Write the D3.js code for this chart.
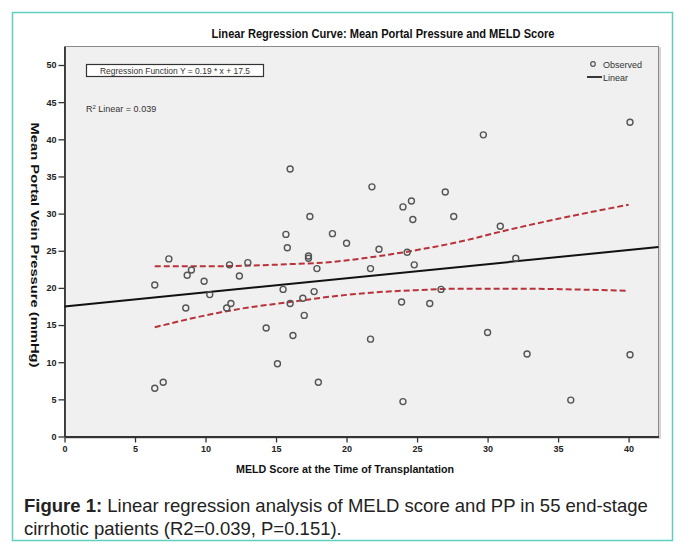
<!DOCTYPE html>
<html>
<head>
<meta charset="utf-8">
<script src="https://cdn.jsdelivr.net/npm/d3@7"></script>
<style>
  html, body { margin: 0; padding: 0; background: #fff; }
  svg { display: block; }
  .narrow { font-family: 'Liberation Sans Narrow', 'Arial Narrow', 'Liberation Sans', Arial, sans-serif; }
  .cap { font-family: 'Liberation Sans', Arial, sans-serif; }
</style>
</head>
<body>
<svg id="chart" width="677" height="544"></svg>
<script>
// ---- data ----
const meld = [6.4, 7.4, 8.7, 9.0, 8.6, 9.9, 10.3, 11.7, 11.8, 11.5, 12.4, 13.0, 6.4, 7.0,
  14.3, 15.1, 15.5, 15.8, 16.0, 16.2, 17.0, 16.9, 17.3, 17.3, 17.9, 17.7, 18.0, 16.0,
  17.4, 15.7, 19.0, 21.8, 24.0, 24.6, 24.7, 27.0, 27.6, 29.7, 30.9, 40.1, 20.0, 22.3,
  24.3, 21.7, 24.8, 32.0, 26.7, 23.9, 25.9, 21.7, 30.0, 32.8, 40.1, 24.0, 35.9];
const pressure = [20.4, 23.9, 21.7, 22.4, 17.3, 20.9, 19.1, 23.1, 17.9, 17.3, 21.6, 23.4, 6.5, 7.3,
  14.6, 9.8, 19.8, 25.4, 17.9, 13.6, 16.3, 18.6, 24.3, 24.0, 22.6, 19.5, 7.3, 36.0,
  29.6, 27.2, 27.3, 33.6, 30.9, 31.7, 29.2, 32.9, 29.6, 40.6, 28.3, 42.3, 26.0, 25.2,
  24.8, 22.6, 23.1, 24.0, 19.8, 18.1, 17.9, 13.1, 14.0, 11.1, 11.0, 4.7, 4.9];

const upperX = [6.4, 10, 13, 16, 19, 22, 25, 28, 31, 35, 40];
const upperY = [22.9, 22.9, 23.0, 23.2, 23.5, 24.2, 25.1, 26.2, 27.6, 29.3, 31.2];
const lowerX = [6.4, 10, 12.5, 16, 19, 22, 25, 28, 32, 36, 40];
const lowerY = [14.7, 16.3, 17.2, 18.1, 18.85, 19.4, 19.7, 19.9, 19.9, 19.8, 19.6];

const regSlope = 0.19, regIntercept = 17.5;
const xTicks = [0, 5, 10, 15, 20, 25, 30, 35, 40];
const yTicks = [0, 5, 10, 15, 20, 25, 30, 35, 40, 45, 50];

const titleText = "Linear Regression Curve: Mean Portal Pressure and MELD Score";
const xLabel = "MELD Score at the Time of Transplantation";
const yLabel = "Mean Portal Vein Pressure (mmHg)";
const regText = "Regression Function Y = 0.19 * x + 17.5";
const captionBold = "Figure 1:";
const caption1 = " Linear regression analysis of MELD score and PP in 55 end-stage";
const caption2 = "cirrhotic patients (R2=0.039, P=0.151).";

// ---- layout ----
(function () {
const svg = d3.select("#chart");
const pLeft = 64.5, pRight = 658.5, pTop = 46.5, pBottom = 436.5;

const x = d3.scaleLinear().domain([0, 42.12]).range([pLeft, pRight]);
const y = d3.scaleLinear().domain([0, 52.49]).range([pBottom, pTop]);

// outer teal frame
svg.append("rect").attr("x", 12.5).attr("y", 12.5).attr("width", 660).attr("height", 528)
  .attr("fill", "#fff").attr("stroke", "#5fcfc0").attr("stroke-width", 1.5);

// title
svg.append("text").attr("class", "narrow")
  .attr("x", 383).attr("y", 37.5).attr("text-anchor", "middle")
  .attr("font-size", 12).attr("font-weight", "bold").attr("fill", "#111")
  .attr("textLength", 343).attr("lengthAdjust", "spacingAndGlyphs")
  .text(titleText);

// plot background / frame
svg.append("rect").attr("x", pLeft + 1.5).attr("y", pTop + 1.5)
  .attr("width", pRight - pLeft).attr("height", pBottom - pTop)
  .attr("fill", "none").attr("stroke", "#c8c8c8").attr("stroke-width", 1.5);
svg.append("rect").attr("x", pLeft).attr("y", pTop)
  .attr("width", pRight - pLeft).attr("height", pBottom - pTop)
  .attr("fill", "#f0f0f0").attr("stroke", "#8a8a8a").attr("stroke-width", 1);

// axes
const gx = svg.append("g").attr("transform", `translate(0,${pBottom})`)
  .call(d3.axisBottom(x).tickValues(xTicks).tickSize(6).tickSizeOuter(0).tickPadding(3).tickFormat(d3.format("d")));
const gy = svg.append("g").attr("transform", `translate(${pLeft},0)`)
  .call(d3.axisLeft(y).tickValues(yTicks).tickSize(6).tickSizeOuter(0).tickPadding(2).tickFormat(d3.format("d")));
[gx, gy].forEach(g => {
  g.select(".domain").attr("stroke", "#333").attr("stroke-width", 1.8);
  g.selectAll(".tick line").attr("stroke", "#333").attr("stroke-width", 1.3);
  g.selectAll(".tick text").attr("class", "narrow").attr("font-size", 9)
    .attr("font-weight", "bold").attr("fill", "#222");
});

// CI curves (dashed red)
const ciLine = d3.line().x(d => x(d[0])).y(d => y(d[1])).curve(d3.curveMonotoneX);
[[upperX, upperY], [lowerX, lowerY]].forEach(([xs, ys]) => {
  svg.append("path").datum(xs.map((v, i) => [v, ys[i]]))
    .attr("d", ciLine).attr("fill", "none")
    .attr("stroke", "#b8323a").attr("stroke-width", 2).attr("stroke-dasharray", "6,3");
});

// regression line
const xEnd = x.domain()[1];
svg.append("path").datum([[0, regIntercept], [xEnd, regSlope * xEnd + regIntercept]])
  .attr("d", d3.line().x(d => x(d[0])).y(d => y(d[1])))
  .attr("stroke", "#111").attr("stroke-width", 2).attr("fill", "none");

// observed points
svg.append("g").selectAll("circle").data(meld.map((m, i) => [m, pressure[i]]))
  .join("circle")
  .attr("cx", d => x(d[0])).attr("cy", d => y(d[1])).attr("r", 3)
  .attr("fill", "none").attr("stroke", "#555").attr("stroke-width", 1.4);

// regression function box
svg.append("rect").attr("x", 86.5).attr("y", 64.5).attr("width", 177).attr("height", 12)
  .attr("fill", "#fff").attr("stroke", "#333").attr("stroke-width", 1.2);
svg.append("text").attr("class", "narrow").attr("x", 175).attr("y", 73.8)
  .attr("text-anchor", "middle").attr("font-size", 9).attr("fill", "#333")
  .attr("textLength", 150).attr("lengthAdjust", "spacingAndGlyphs")
  .text(regText);

// R squared
const r2 = svg.append("text").attr("class", "narrow").attr("x", 86).attr("y", 112)
  .attr("font-size", 9).attr("fill", "#333");
r2.append("tspan").text("R");
r2.append("tspan").attr("font-size", 6).attr("dy", -3.5).text("2");
r2.append("tspan").attr("dy", 3.5).text(" Linear = 0.039");

// legend
svg.append("circle").attr("cx", 593).attr("cy", 64).attr("r", 2.3)
  .attr("fill", "none").attr("stroke", "#555").attr("stroke-width", 1.2);
svg.append("text").attr("class", "narrow").attr("x", 603).attr("y", 67.5)
  .attr("font-size", 9).attr("fill", "#333").text("Observed");
svg.append("line").attr("x1", 587).attr("x2", 602).attr("y1", 77).attr("y2", 77)
  .attr("stroke", "#222").attr("stroke-width", 1.8);
svg.append("text").attr("class", "narrow").attr("x", 603).attr("y", 80.5)
  .attr("font-size", 9).attr("fill", "#333").text("Linear");

// axis labels
svg.append("text").attr("class", "narrow")
  .attr("x", 345).attr("y", 473).attr("text-anchor", "middle")
  .attr("font-size", 11).attr("font-weight", "bold").attr("fill", "#111")
  .attr("textLength", 218).attr("lengthAdjust", "spacingAndGlyphs")
  .text(xLabel);
svg.append("text").attr("class", "narrow")
  .attr("transform", "translate(31,245) rotate(90)").attr("text-anchor", "middle")
  .attr("font-size", 11.5).attr("font-weight", "bold").attr("fill", "#111")
  .attr("textLength", 245).attr("lengthAdjust", "spacingAndGlyphs")
  .text(yLabel);

// caption
const c1 = svg.append("text").attr("class", "cap").attr("x", 24).attr("y", 511.5)
  .attr("font-size", 18.5).attr("fill", "#222");
c1.append("tspan").attr("font-weight", "bold").text(captionBold);
c1.append("tspan").text(caption1);
svg.append("text").attr("class", "cap").attr("x", 24).attr("y", 534.5)
  .attr("font-size", 18.5).attr("fill", "#222").text(caption2);
})();
</script>
</body>
</html>
